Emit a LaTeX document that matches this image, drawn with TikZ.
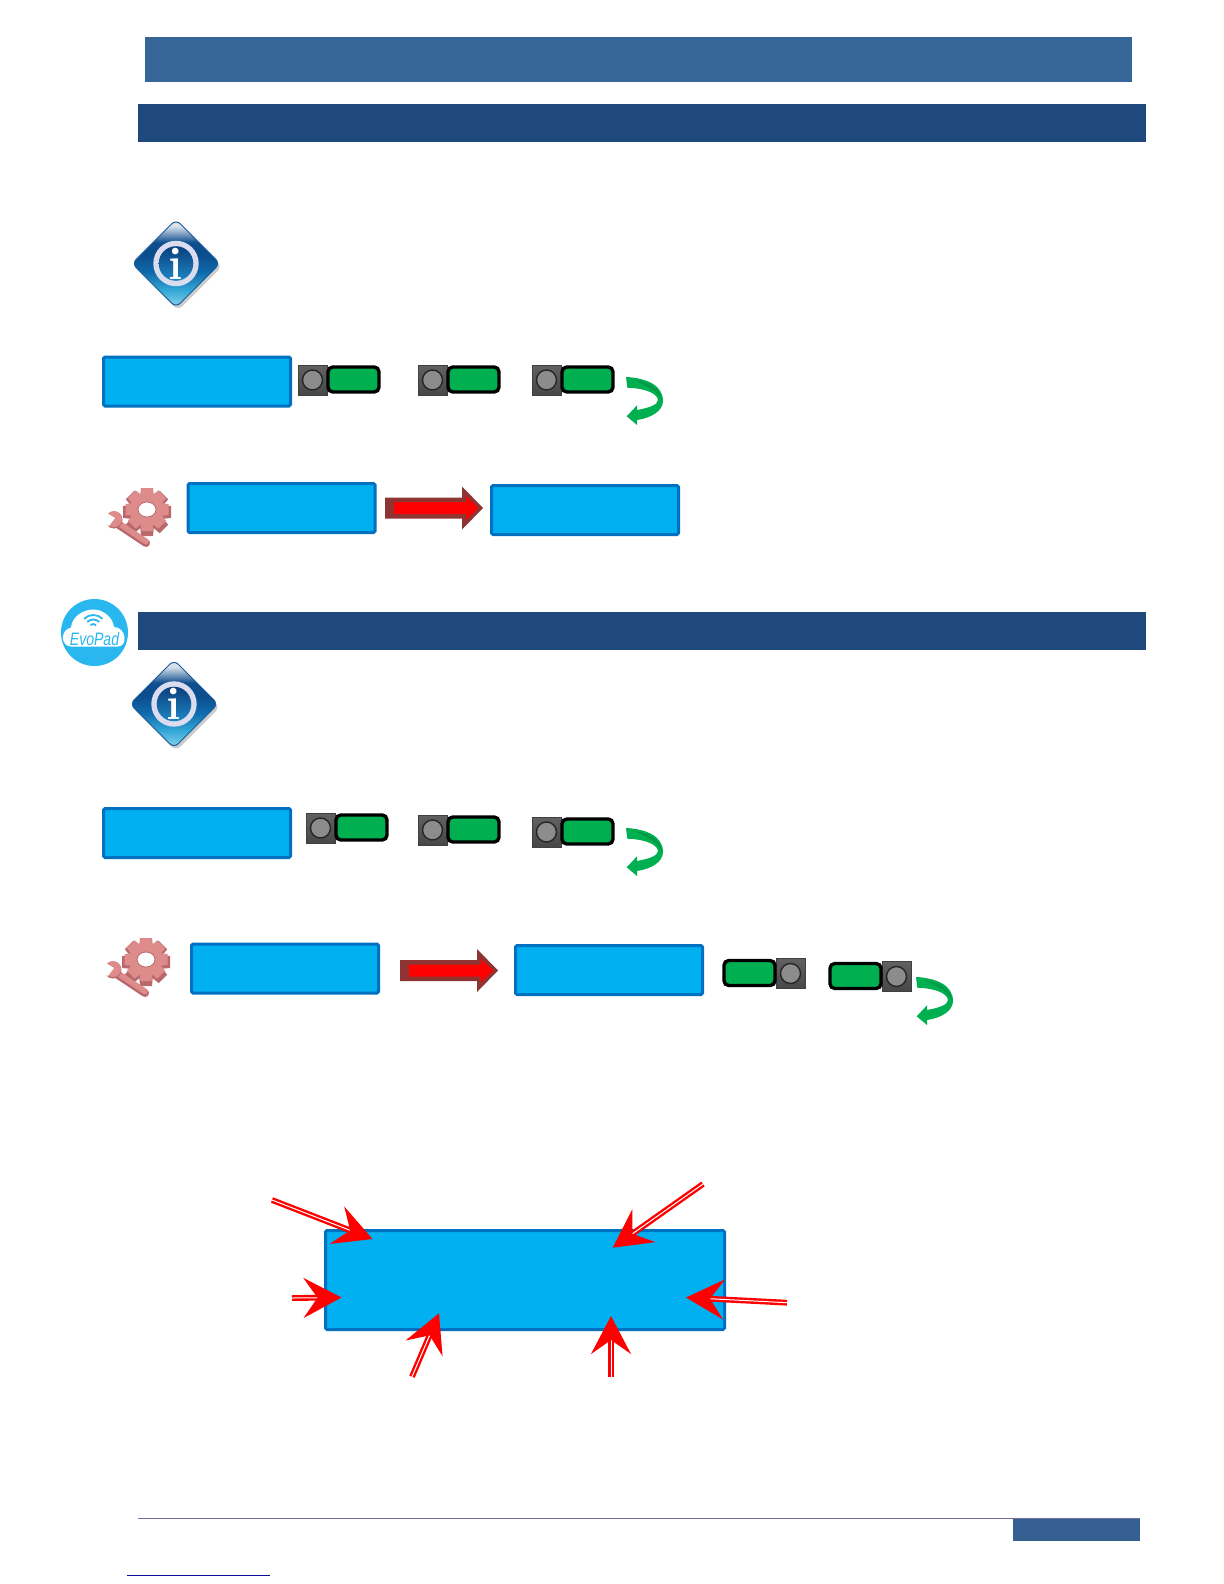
\documentclass[tikz,border=0pt]{standalone}
\usepackage{fontspec}
\setsansfont{Liberation Sans}
\usetikzlibrary{arrows.meta,shapes.geometric}
\definecolor{barA}{HTML}{366598}
\definecolor{barB}{HTML}{1F497D}
\definecolor{footbox}{HTML}{376092}
\definecolor{footline}{HTML}{72709A}
\definecolor{linkline}{HTML}{0A0A9A}
\definecolor{boxfill}{HTML}{00B0F0}
\definecolor{boxline}{HTML}{0070C0}
\definecolor{swgreen}{HTML}{00B050}
\definecolor{arrowedge}{HTML}{8E3533}
\definecolor{gearpink}{HTML}{DE8B8B}
\definecolor{gearedge}{HTML}{B9686B}
\definecolor{evoblue}{HTML}{2AB7F0}
\definecolor{ringtint}{HTML}{DCDCF0}
\definecolor{edgeblue}{HTML}{1A5C9A}
\definecolor{sA}{HTML}{8AD6EC}
\definecolor{sB}{HTML}{33A6D6}
\definecolor{sC}{HTML}{0F6AAB}
\definecolor{sD}{HTML}{0B4D8D}
\definecolor{sE}{HTML}{0F4E8E}
\definecolor{sF}{HTML}{7E9EC0}
\definecolor{sG}{HTML}{D5E0EA}
\definecolor{sH}{HTML}{E4EAF2}
\definecolor{cA}{HTML}{1E86C4}
\definecolor{cB}{HTML}{0A3F7C}
\pgfdeclareverticalshading{infodiamond}{100bp}{color(0bp)=(sA);
  color(25bp)=(sA);color(35bp)=(sB);color(45bp)=(sC);color(55bp)=(sD);
  color(62bp)=(sE);color(67bp)=(sF);color(71bp)=(sG);color(75bp)=(sH);color(100bp)=(sH)}
\pgfdeclareverticalshading{infocore}{100bp}{color(0bp)=(cA);
  color(25bp)=(cA);color(75bp)=(cB);color(100bp)=(cB)}
\tikzset{
  x=0.5pt,y=-0.5pt,
  bluebox/.style={draw=boxline,fill=boxfill,line width=1.5pt,rounded corners=0.8pt,
    inner sep=0pt,outer sep=0pt,anchor=north west,minimum width=93.5pt,minimum height=24.5pt},
  bigbox/.style={bluebox,minimum width=199.5pt,minimum height=49.5pt},
  pointer/.style={draw=red,line width=1.2pt,double=white,double distance=0.5pt,
    -{Stealth[length=19pt,width=20pt,inset=7pt,fill=red,color=red]}},
  presser/.pic={
    \fill[top color=black!62,bottom color=black!72,draw=black!75,line width=0.4pt] (0,0) rectangle (29,30);
    \draw[fill=black!45,draw=black!85,line width=0.7pt] (14.5,15) circle (10);
    \draw[fill=swgreen,draw=black,line width=1.7pt,rounded corners=2.4pt] (30,2) rectangle (81,27);
  },
  greenturn/.pic={
    \fill[swgreen] (0,0) .. controls (20,1) and (37,8) .. (37,24)
      .. controls (37,34) and (25,41) .. (11,43) -- (11,48) -- (0.7,39.3) -- (11,28.3) -- (11,33)
      .. controls (22,31) and (32,28) .. (32,23) .. controls (31,15) and (15,11) .. (1.3,10.7) -- cycle;
    \fill[black,opacity=0.12] (8,3) .. controls (24,5) and (35,12) .. (36,24) .. controls (33,15) and (20,8) .. (8,3) -- cycle;
  },
  fatarrow/.pic={
    \fill[arrowedge] (0,-10.5) -- (77,-10.5) -- (77,-21.5) -- (98,0) -- (77,21.5) -- (77,10.5) -- (0,10.5) -- cycle;
    \fill[red] (9,-6) -- (81,-6) -- (81,-12) -- (93,0) -- (81,12) -- (81,6) -- (9,6) -- cycle;
  },
  infomark/.pic={
    \fill[black!50,opacity=0.4,rounded corners=3pt] (2,-41) -- (46,3) -- (2,47) -- (-42,3) -- cycle;
    \path[shading=infodiamond,draw=edgeblue,line width=0.5pt,rounded corners=3pt]
      (0,-44) -- (44,0) -- (0,44) -- (-44,0) -- cycle;
    \fill[ringtint] (0,0) circle (22.7);
    \path[shading=infocore] (0,0) circle (17.3);
    \node[text=white,font=\rmfamily\bfseries\fontsize{23pt}{23pt}\selectfont,inner sep=0pt] (-glyph) at (0,0) {i};
  },
  gearmark/.pic={
    \foreach \a in {0,45,...,315}{
      \fill[gearedge,rotate around={\a:(40,23)}] (34,-1) -- (46,-1) -- (47,10) -- (33,10) -- cycle;
    }
    \fill[gearedge] (40,23) circle (17);
    \foreach \a in {0,45,...,315}{
      \fill[gearpink,rotate around={\a:(40,20.5)}] (34.5,-1) -- (45.5,-1) -- (46.5,8) -- (33.5,8) -- cycle;
    }
    \fill[gearpink] (40,20.5) circle (16);
    \fill[white,draw=gearedge,line width=0.4pt] (40,20.5) ellipse (9 and 7.5);
    \draw[gearedge,line width=4pt,line cap=round] (12,36) -- (39,54);
    \draw[gearpink,line width=2.8pt,line cap=round] (12,34.5) -- (39,52.5);
    \fill[gearedge] (7,31) circle (8.5);
    \fill[gearpink] (7,30) circle (8);
    \fill[white] (-5,21) -- (8,29) -- (2,37) -- (-7,31) -- cycle;
  }
}
\begin{document}
\begin{tikzpicture}
\useasboundingbox (0,0) rectangle (1224,1584);
\fill[white] (0,0) rectangle (1224,1584);
% header bars
\fill[barA] (144.5,37.5) rectangle (1132,82);
\fill[barB] (137.5,104) rectangle (1146,141.5);
\fill[barB] (137.5,612) rectangle (1146,649.5);
% section one
\pic at (176,263.5) {infomark};
\node[bluebox] (boxA) at (103.5,357) {};
\pic at (298,365) {presser};
\pic at (418,365) {presser};
\pic at (532,365) {presser};
\pic at (626,377) {greenturn};
\pic at (107,489) {gearmark};
\node[bluebox] (boxB) at (188,483.5) {};
\node[bluebox] (boxC) at (491.5,485.5) {};
\pic at (385,508) {fatarrow};
% section two
\fill[evoblue] (94.5,632.5) circle (33.5);
\fill[white] (72,646.7) .. controls (60,646.7) and (60,630) .. (71,627.5)
  .. controls (72,616) and (84,609.5) .. (93,609.5) .. controls (104,609.5) and (113,618) .. (114,627)
  .. controls (126,627) and (129,646.7) .. (117,646.7) -- cycle;
\foreach \r in {4,8.5,13}{
  \draw[evoblue,line width=0.9pt] (93.3,628) ++(-45:\r) arc[start angle=-45,end angle=-135,radius=\r];
}
\node[text=evoblue,font=\sffamily\itshape\fontsize{9pt}{9pt}\selectfont,inner sep=0pt,xscale=0.78,transform shape] (evoname) at (94.5,639) {EvoPad};
\pic at (174,704) {infomark};
\node[bluebox] (boxD) at (103.5,808.5) {};
\pic at (306,813) {presser};
\pic at (418,815) {presser};
\pic at (532,817) {presser};
\pic at (626,828) {greenturn};
\pic at (106,939) {gearmark};
\node[bluebox] (boxE) at (191.5,944) {};
\node[bluebox] (boxF) at (515.5,945.5) {};
\pic at (400,970.5) {fatarrow};
\pic[xscale=-1] at (805,958.5) {presser};
\pic[xscale=-1] at (911,961.5) {presser};
\pic at (916,977) {greenturn};
% panel with pointers
\node[bigbox] (panel) at (325.5,1230.5) {};
\coordinate (ptAs) at (272,1200);
\coordinate (ptAt) at (372.5,1239);
\coordinate (ptBs) at (703,1184);
\coordinate (ptBt) at (612.7,1247.7);
\coordinate (ptCs) at (292,1298);
\coordinate (ptCt) at (341.5,1297.5);
\coordinate (ptDs) at (412,1376.7);
\coordinate (ptDt) at (439,1313.3);
\coordinate (ptEs) at (611,1376.7);
\coordinate (ptEt) at (611,1316);
\coordinate (ptFs) at (787,1302.7);
\coordinate (ptFt) at (686,1297.5);
\draw[pointer] (ptAs) -- (ptAt);
\draw[pointer] (ptBs) -- (ptBt);
\draw[pointer] (ptCs) -- (ptCt);
\draw[pointer] (ptDs) -- (ptDt);
\draw[pointer] (ptEs) -- (ptEt);
\draw[pointer] (ptFs) -- (ptFt);
% footer
\draw[footline,line width=0.9pt] (138,1518.5) -- (1140,1518.5);
\fill[footbox] (1013,1519) rectangle (1140,1541);
\draw[linkline,line width=0.7pt] (127,1575.5) -- (270,1575.5);
\end{tikzpicture}
\end{document}
